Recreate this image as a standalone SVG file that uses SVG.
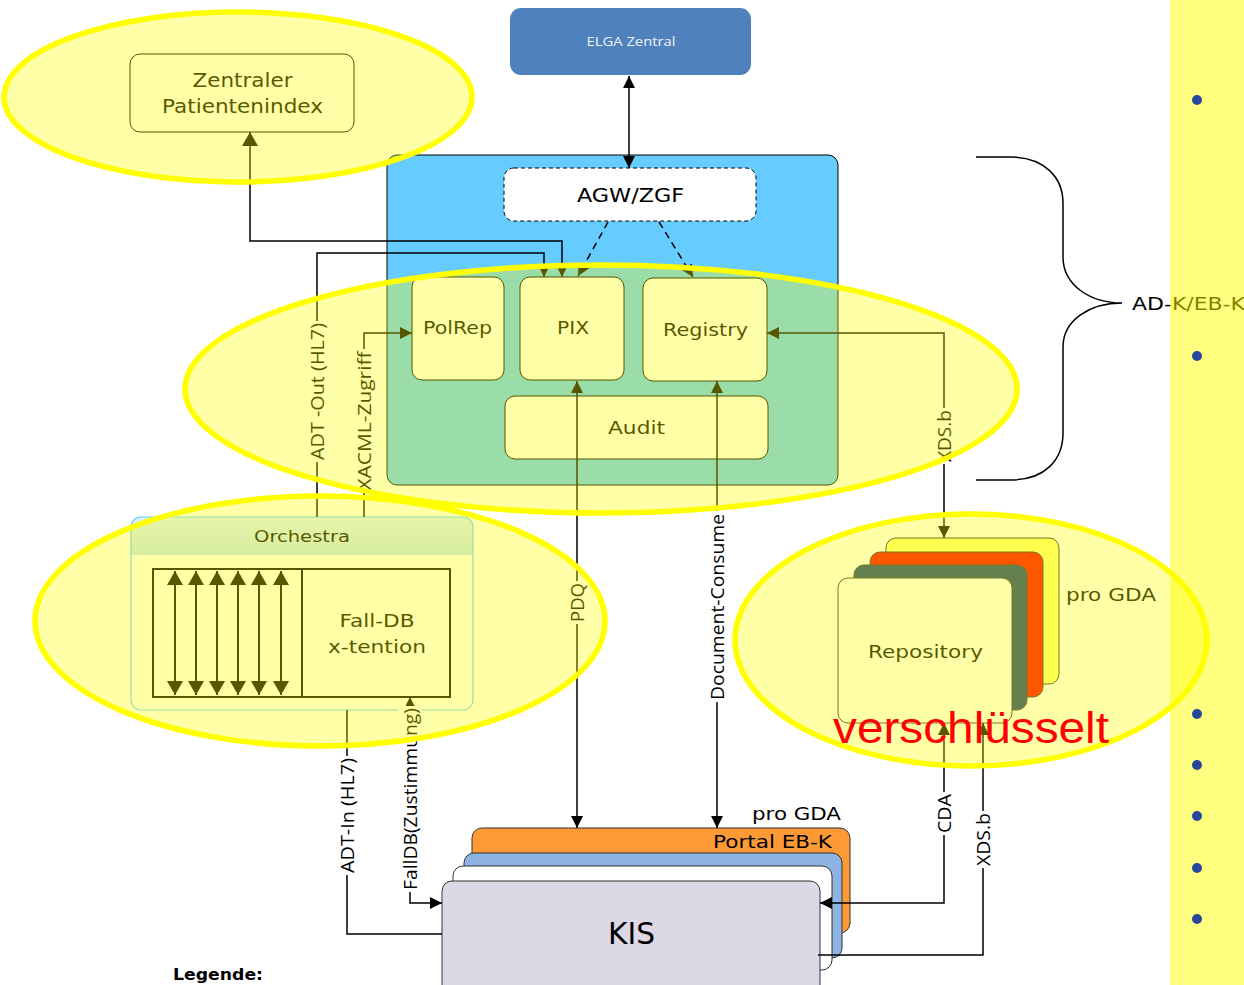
<svg xmlns="http://www.w3.org/2000/svg" width="1244" height="985" viewBox="0 0 1244 985">
  <style>
    .box { font-family: "DejaVu Sans", Verdana, sans-serif; fill: #000; text-anchor: middle; }
    .lbl { font-family: "Open Sans", "Noto Sans", sans-serif; font-size: 18px; fill: #000; text-anchor: middle; dominant-baseline: central; }
    .wire { fill: none; stroke: #000; stroke-width: 1.5; }
    .arr { marker-end: url(#ah); }
    .arr2 { marker-start: url(#ah); marker-end: url(#ah); }
    .card { stroke: #333; stroke-width: 1; }
    .hl { fill: #ffff00; fill-opacity: 0.34; stroke: #ffff00; stroke-width: 5.5; }
    .gap { fill: #fff; }
  </style>
  <defs>
    <marker id="ah" viewBox="0 0 12 12" refX="12" refY="6" markerWidth="12" markerHeight="12" markerUnits="userSpaceOnUse" orient="auto-start-reverse">
      <path d="M0,0 L12,6 L0,12 z" fill="#000"/>
    </marker>
    <marker id="ahBig" viewBox="0 0 14 16" refX="14" refY="8" markerWidth="14" markerHeight="16" markerUnits="userSpaceOnUse" orient="auto-start-reverse">
      <path d="M0,0 L14,8 L0,16 z" fill="#000"/>
    </marker>
    <linearGradient id="hdr" x1="0" y1="0" x2="0" y2="1">
      <stop offset="0" stop-color="#dcf1ff"/>
      <stop offset="1" stop-color="#c2e3f7"/>
    </linearGradient>
  </defs>

  <rect width="1244" height="985" fill="#fff"/>

  <!-- central infrastructure -->
  <g id="elga-zentral">
    <rect x="510" y="8" width="241" height="67" rx="11" fill="#4f81bd"/>
    <text x="631" y="46" font-family="'Open Sans', 'Noto Sans', sans-serif" font-size="13" fill="#eef2fa" text-anchor="middle" textLength="89" lengthAdjust="spacingAndGlyphs">ELGA Zentral</text>
  </g>

  <g id="ad-k-container">
    <rect x="387" y="155" width="451" height="330" rx="10" fill="#66ccff" stroke="#000" stroke-width="1"/>
  </g>

  <g id="agw-zgf">
    <rect x="504" y="168" width="252" height="53" rx="10" fill="#fff" stroke="#000" stroke-width="1" stroke-dasharray="4 3"/>
    <text class="box" x="630.5" y="202" font-size="20" textLength="107" lengthAdjust="spacingAndGlyphs">AGW/ZGF</text>
  </g>

  <g id="polrep">
    <rect x="412" y="277" width="92" height="103" rx="10" fill="#fff" stroke="#000"/>
    <text class="box" x="457.5" y="334" font-size="17" textLength="69" lengthAdjust="spacingAndGlyphs">PolRep</text>
  </g>

  <g id="pix">
    <rect x="520" y="277" width="104" height="103" rx="10" fill="#fff" stroke="#000"/>
    <text class="box" x="573" y="334" font-size="17" textLength="32" lengthAdjust="spacingAndGlyphs">PIX</text>
  </g>

  <g id="registry">
    <rect x="643" y="278" width="124" height="103" rx="10" fill="#fff" stroke="#000"/>
    <text class="box" x="705.5" y="336" font-size="17" textLength="85" lengthAdjust="spacingAndGlyphs">Registry</text>
  </g>

  <g id="audit">
    <rect x="505" y="396" width="263" height="63" rx="10" fill="#fff" stroke="#000"/>
    <text class="box" x="636.5" y="434" font-size="17" textLength="57" lengthAdjust="spacingAndGlyphs">Audit</text>
  </g>

  <g id="zentraler-patientenindex">
    <rect x="130" y="54" width="224" height="78" rx="10" fill="#fff" stroke="#000"/>
    <text class="box" x="242.5" y="87" font-size="19" textLength="100" lengthAdjust="spacingAndGlyphs">Zentraler</text>
    <text class="box" x="242.5" y="113" font-size="19" textLength="161" lengthAdjust="spacingAndGlyphs">Patientenindex</text>
  </g>

  <g id="orchestra">
    <rect x="131" y="517" width="342" height="193" rx="10" fill="#fff"/>
    <path d="M131,555 V527 Q131,517 141,517 H463 Q473,517 473,527 V555 Z" fill="url(#hdr)"/>
    <rect x="131" y="517" width="342" height="193" rx="10" fill="none" stroke="#66ccff" stroke-width="1.2"/>
    <text class="box" x="302" y="542" font-size="16" textLength="96" lengthAdjust="spacingAndGlyphs">Orchestra</text>
    <rect x="153" y="569" width="297" height="128" fill="#fff" stroke="#000" stroke-width="2"/>
    <line x1="302" y1="569" x2="302" y2="697" stroke="#000" stroke-width="2"/>
    <g stroke="#000" stroke-width="2" marker-start="url(#ahBig)" marker-end="url(#ahBig)">
      <line x1="175" y1="571" x2="175" y2="695"/>
      <line x1="196" y1="571" x2="196" y2="695"/>
      <line x1="217" y1="571" x2="217" y2="695"/>
      <line x1="238" y1="571" x2="238" y2="695"/>
      <line x1="259" y1="571" x2="259" y2="695"/>
      <line x1="281" y1="571" x2="281" y2="695"/>
    </g>
    <text class="box" x="377" y="627" font-size="18" textLength="75" lengthAdjust="spacingAndGlyphs">Fall-DB</text>
    <text class="box" x="377" y="653" font-size="18" textLength="98" lengthAdjust="spacingAndGlyphs">x-tention</text>
  </g>

  <g id="repository">
    <rect class="card" x="886" y="538" width="173" height="146" rx="10" fill="#ffff78"/>
    <rect class="card" x="870" y="552" width="173" height="145" rx="10" fill="#ff0000"/>
    <rect class="card" x="854" y="565" width="173" height="145" rx="10" fill="#183e79"/>
    <rect class="card" x="838" y="578" width="174" height="145" rx="10" fill="#fff"/>
    <text class="box" x="925.5" y="658" font-size="17" textLength="115" lengthAdjust="spacingAndGlyphs">Repository</text>
    <text class="box" x="1111" y="601" font-size="17" textLength="90" lengthAdjust="spacingAndGlyphs">pro GDA</text>
  </g>

  <g id="kis">
    <rect class="card" x="472" y="828" width="378" height="105" rx="10" fill="#fd9a36"/>
    <rect class="card" x="464" y="853" width="378" height="105" rx="10" fill="#8db3e2"/>
    <rect class="card" x="453" y="866" width="379" height="104" rx="10" fill="#fff"/>
    <rect class="card" x="442" y="881" width="378" height="120" rx="10" fill="#ddd8e6"/>
    <text class="box" x="796.5" y="820" font-size="18" textLength="89" lengthAdjust="spacingAndGlyphs">pro GDA</text>
    <text class="box" x="772.5" y="848" font-size="18" textLength="119" lengthAdjust="spacingAndGlyphs">Portal EB-K</text>
    <text class="box" x="631.5" y="944" font-size="31" textLength="47" lengthAdjust="spacingAndGlyphs">KIS</text>
  </g>

  <!-- interfaces between the components -->
  <g id="connectors">
    <line class="wire arr2" x1="629" y1="76" x2="629" y2="168"/>
    <line class="wire arr" x1="608" y1="222" x2="578" y2="276" stroke-dasharray="7 5"/>
    <line class="wire arr" x1="659" y1="222" x2="693" y2="277" stroke-dasharray="7 5"/>
    <polyline class="wire" points="250,132 250,241 562,241 562,277" marker-start="url(#ahBig)" marker-end="url(#ah)"/>
    <polyline class="wire arr" points="317,517 317,253 544,253 544,277"/>
    <polyline class="wire arr" points="364,517 364,333 412,333"/>
    <polyline class="wire arr2" points="767,333 944,333 944,538"/>
    <line class="wire arr2" x1="577" y1="381" x2="577" y2="828"/>
    <line class="wire arr2" x1="717" y1="381" x2="717" y2="828"/>
    <polyline class="wire arr2" points="820,903 944,903 944,723"/>
    <polyline class="wire arr" points="818,955 983,955 983,723"/>
    <polyline class="wire" points="347,710 347,934 442,934"/>
    <polyline class="wire arr2" points="442,903 410,903 410,697"/>

    <rect class="gap" x="305" y="321" width="24" height="141"/>
    <text class="lbl" transform="translate(317,391.5) rotate(-90)" textLength="137" lengthAdjust="spacingAndGlyphs">ADT -Out (HL7)</text>
    <rect class="gap" x="352" y="349" width="24" height="143"/>
    <text class="lbl" transform="translate(364,421) rotate(-90)" textLength="139" lengthAdjust="spacingAndGlyphs">XACML-Zugriff</text>
    <rect class="gap" x="932" y="408" width="24" height="56"/>
    <text class="lbl" transform="translate(944,436) rotate(-90)" textLength="52" lengthAdjust="spacingAndGlyphs">XDS.b</text>
    <rect class="gap" x="565" y="581" width="24" height="43"/>
    <text class="lbl" transform="translate(577,602.5) rotate(-90)" textLength="39" lengthAdjust="spacingAndGlyphs">PDQ</text>
    <rect class="gap" x="705" y="511" width="24" height="191"/>
    <text class="lbl" transform="translate(717,607) rotate(-90)" textLength="186" lengthAdjust="spacingAndGlyphs">Document-Consume</text>
    <rect class="gap" x="335" y="756" width="24" height="119"/>
    <text class="lbl" transform="translate(347,815.5) rotate(-90)" textLength="115" lengthAdjust="spacingAndGlyphs">ADT-In (HL7)</text>
    <rect class="gap" x="398" y="706" width="24" height="186"/>
    <text class="lbl" transform="translate(410,799) rotate(-90)" textLength="182" lengthAdjust="spacingAndGlyphs">FallDB(Zustimmung)</text>
    <rect class="gap" x="932" y="792" width="24" height="43"/>
    <text class="lbl" transform="translate(944,813.5) rotate(-90)" textLength="39" lengthAdjust="spacingAndGlyphs">CDA</text>
    <rect class="gap" x="971" y="811" width="24" height="57"/>
    <text class="lbl" transform="translate(983,839.5) rotate(-90)" textLength="53" lengthAdjust="spacingAndGlyphs">XDS.b</text>
  </g>

  <!-- scope brace -->
  <g id="scope-brace">
    <path d="M976,157 L1010,157 C1045,157 1063,178 1063,203 L1063,257 C1063,285 1090,303 1122,303 C1090,303 1063,320 1063,347 L1063,433 C1063,460 1045,480 1010,480 L976,480" fill="none" stroke="#000" stroke-width="1.5"/>
    <text x="1132" y="310" font-family="'DejaVu Sans', Verdana, sans-serif" font-size="17" fill="#000" textLength="113" lengthAdjust="spacingAndGlyphs">AD-K/EB-K</text>
  </g>

  <!-- side panel -->
  <rect id="side-panel" x="1170" y="0" width="74" height="985" fill="#ffff00" fill-opacity="0.5"/>

  <!-- highlight marks -->
  <g id="highlights">
    <ellipse class="hl" cx="238" cy="97" rx="234" ry="85"/>
    <ellipse class="hl" cx="601" cy="389" rx="416" ry="124"/>
    <ellipse class="hl" cx="320" cy="621" rx="285" ry="125"/>
    <ellipse class="hl" cx="971" cy="640" rx="236" ry="126"/>
  </g>

  <g id="bullets" fill="#27479a">
    <circle cx="1197" cy="100" r="5"/>
    <circle cx="1197" cy="356" r="5"/>
    <circle cx="1197" cy="714" r="5"/>
    <circle cx="1197" cy="765" r="5"/>
    <circle cx="1197" cy="816" r="5"/>
    <circle cx="1197" cy="868" r="5"/>
    <circle cx="1197" cy="919" r="5"/>
  </g>

  <text id="verschluesselt" x="833" y="743" font-family="'Liberation Sans', Arial, sans-serif" font-size="45" fill="#ff0000" textLength="276" lengthAdjust="spacingAndGlyphs">verschlüsselt</text>

  <text id="legende" x="173" y="980" font-family="'DejaVu Sans', Verdana, sans-serif" font-size="15" font-weight="bold" fill="#000" textLength="90" lengthAdjust="spacingAndGlyphs">Legende:</text>
</svg>
